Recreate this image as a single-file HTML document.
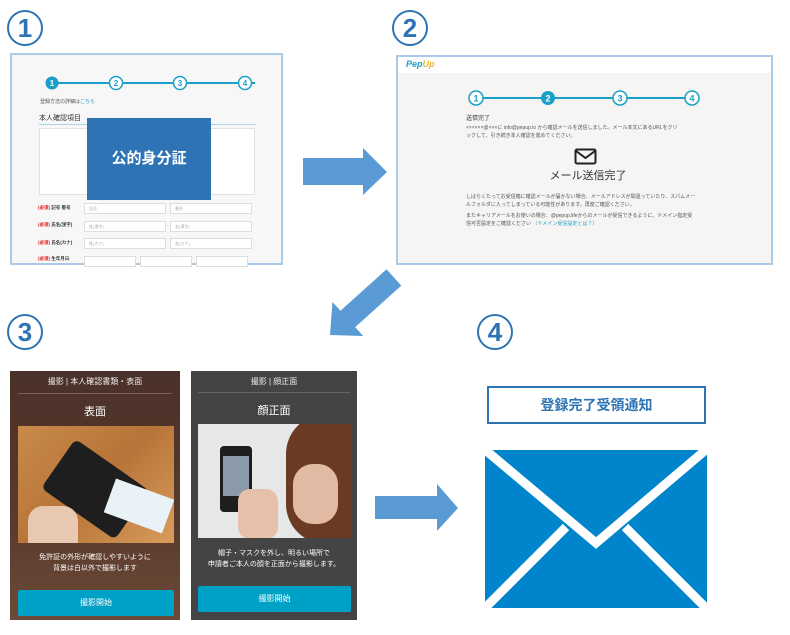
<!DOCTYPE html>
<html><head><meta charset="utf-8"><style>
*{margin:0;padding:0;box-sizing:border-box}
body{width:790px;height:635px;background:#fff;position:relative;overflow:hidden;font-family:"Liberation Sans","Noto Sans CJK JP",sans-serif}
.a{position:absolute}
.num{position:absolute;width:36px;height:36px;border:2px solid #2e74b5;border-radius:50%;color:#2e74b5;font-weight:bold;font-size:26px;line-height:32px;text-align:center}
.t{font-size:5px;color:#555;white-space:nowrap}
.inp{position:absolute;height:11px;border:1px solid #ddd;background:#fff;font-size:4px;color:#aaa;padding-left:4px;line-height:9px}
.lab{position:absolute;font-size:4.5px;color:#333;font-weight:bold}
.lab b{color:#d33}
</style></head><body>
<div class="num" style="left:7px;top:10px">1</div>
<div class="num" style="left:392px;top:10px">2</div>
<div class="num" style="left:7px;top:314px">3</div>
<div class="num" style="left:477px;top:314px">4</div>

<!-- Panel 1 -->
<div class="a" style="left:10px;top:53px;width:273px;height:212px;border:2px solid #a9cbe8;background:#f7f7f7">
  <svg class="a" style="left:0;top:0" width="270" height="40">
    <line x1="40" y1="28" x2="243" y2="28" stroke="#1a9fc9" stroke-width="2"/>
    <circle cx="40" cy="28" r="6.5" fill="#1a9fc9"/>
    <circle cx="104" cy="28" r="6.5" fill="#fff" stroke="#1a9fc9" stroke-width="1.5"/>
    <circle cx="168" cy="28" r="6.5" fill="#fff" stroke="#1a9fc9" stroke-width="1.5"/>
    <circle cx="233" cy="28" r="6.5" fill="#fff" stroke="#1a9fc9" stroke-width="1.5"/>
    <text x="40" y="31" font-size="8" font-weight="bold" fill="#fff" text-anchor="middle">1</text>
    <text x="104" y="31" font-size="8" font-weight="bold" fill="#1a9fc9" text-anchor="middle">2</text>
    <text x="168" y="31" font-size="8" font-weight="bold" fill="#1a9fc9" text-anchor="middle">3</text>
    <text x="233" y="31" font-size="8" font-weight="bold" fill="#1a9fc9" text-anchor="middle">4</text>
  </svg>
  <div class="a t" style="left:28px;top:43px">登録方法の詳細は<span style="color:#1a9fc9">こちら</span></div>
  <div class="a" style="left:27px;top:58px;width:217px;border-bottom:1.5px solid #a9d6ea;font-size:7px;color:#333;padding-bottom:1px">本人確認項目</div>
  <div class="a" style="left:27px;top:73px;width:216px;height:67px;background:#fff;border:1px solid #e2e2e2"></div>
  <div class="lab" style="left:26px;top:150px"><b>(必須)</b> 記号 番号</div>
  <div class="lab" style="left:26px;top:167px"><b>(必須)</b> 氏名(漢字)</div>
  <div class="lab" style="left:26px;top:185px"><b>(必須)</b> 氏名(カナ)</div>
  <div class="lab" style="left:26px;top:201px"><b>(必須)</b> 生年月日</div>
  <div class="inp" style="left:72px;top:148px;width:82px">記号</div>
  <div class="inp" style="left:158px;top:148px;width:82px">番号</div>
  <div class="inp" style="left:72px;top:166px;width:82px">姓(漢字)</div>
  <div class="inp" style="left:158px;top:166px;width:82px">名(漢字)</div>
  <div class="inp" style="left:72px;top:183px;width:82px">姓(カナ)</div>
  <div class="inp" style="left:158px;top:183px;width:82px">名(カナ)</div>
  <div class="inp" style="left:72px;top:201px;width:52px"></div>
  <div class="inp" style="left:128px;top:201px;width:52px"></div>
  <div class="inp" style="left:184px;top:201px;width:52px"></div>
</div>
<div class="a" style="left:87px;top:118px;width:124px;height:82px;background:#2e74b5;color:#fff;font-size:15px;font-weight:bold;text-align:center;line-height:82px">公的身分証</div>

<!-- Panel 2 -->
<div class="a" style="left:396px;top:55px;width:377px;height:210px;border:2px solid #a9cbe8;background:#f6f5f3">
  <div class="a" style="left:0;top:0;width:373px;height:16px;background:#fff"></div>
  <div class="a" style="left:8px;top:2px;font-size:9px;font-weight:bold;font-style:italic;color:#1a9fc9">Pep<span style="color:#f3b61f">Up</span></div>
  <svg class="a" style="left:0;top:0" width="373" height="60">
    <line x1="78" y1="41" x2="300" y2="41" stroke="#1a9fc9" stroke-width="2"/>
    <circle cx="78" cy="41" r="7" fill="#fff" stroke="#1a9fc9" stroke-width="1.5"/>
    <circle cx="150" cy="41" r="7" fill="#1a9fc9"/>
    <circle cx="222" cy="41" r="7" fill="#fff" stroke="#1a9fc9" stroke-width="1.5"/>
    <circle cx="294" cy="41" r="7" fill="#fff" stroke="#1a9fc9" stroke-width="1.5"/>
    <text x="78" y="44.5" font-size="9" font-weight="bold" fill="#1a9fc9" text-anchor="middle">1</text>
    <text x="150" y="44.5" font-size="9" font-weight="bold" fill="#fff" text-anchor="middle">2</text>
    <text x="222" y="44.5" font-size="9" font-weight="bold" fill="#1a9fc9" text-anchor="middle">3</text>
    <text x="294" y="44.5" font-size="9" font-weight="bold" fill="#1a9fc9" text-anchor="middle">4</text>
  </svg>
  <div class="a t" style="left:68px;top:56px;font-size:6px;color:#333">送信完了</div>
  <div class="a t" style="left:68px;top:67px;line-height:8px">××××××@×××に info@pepup.io から確認メールを送信しました。メール本文にあるURLをクリ<br>ックして、引き続き本人確認を進めてください。</div>
  <svg class="a" style="left:176px;top:91px" width="24" height="18"><rect x="1.5" y="1.5" width="20" height="14" rx="1.5" fill="none" stroke="#222" stroke-width="2"/><polyline points="2,3 11.5,10 21,3" fill="none" stroke="#222" stroke-width="2"/></svg>
  <div class="a" style="left:120px;top:110px;width:140px;text-align:center;font-size:11px;color:#333">メール送信完了</div>
  <div class="a t" style="left:68px;top:136px;line-height:8px">しばらくたってお受信箱に確認メールが届かない場合、メールアドレスが間違っていたり、スパムメー<br>ルフォルダに入ってしまっている可能性があります。再度ご確認ください。</div>
  <div class="a t" style="left:68px;top:155px;line-height:8px">またキャリアメールをお使いの場合、@pepup.lifeからのメールが受信できるように、ドメイン指定受<br>信可否設定をご確認ください <span style="color:#1a9fc9">（ドメイン受信設定とは？）</span></div>
</div>

<!-- arrows -->
<svg class="a" style="left:0;top:0" width="790" height="635">
  <polygon points="303,158 363,158 363,148 387,172 363,195 363,185 303,185" fill="#5b9bd5"/>
  <polygon points="375,496 437,496 437,484 458,508 437,531 437,519 375,519" fill="#5b9bd5"/>
  <g transform="translate(330,335) rotate(-42)">
    <polygon points="0,0 24,-23 24,-11 86,-11 86,11 24,11 24,23" fill="#5b9bd5"/>
  </g>
  <!-- envelope -->
  <rect x="483" y="448" width="226" height="162" fill="#0085cc"/>
  <polyline points="483,448 596,543 708,448" fill="none" stroke="#fff" stroke-width="9"/>
  <line x1="483" y1="610" x2="566" y2="527" stroke="#fff" stroke-width="9"/>
  <line x1="708" y1="610" x2="625" y2="527" stroke="#fff" stroke-width="9"/>
  <rect x="483" y="448" width="226" height="162" fill="none" stroke="#fff" stroke-width="4"/>
</svg>
<div class="a" style="left:487px;top:386px;width:219px;height:38px;border:2px solid #2e74b5;color:#2e74b5;font-weight:bold;font-size:14px;text-align:center;line-height:34px">登録完了受領通知</div>

<!-- Panel 3 left -->
<div class="a" style="left:10px;top:371px;width:170px;height:249px;background:linear-gradient(#4a3129,#5a3a2c 60%,#6b4a38)">
  <div class="a" style="left:0;top:5px;width:170px;text-align:center;color:#eee;font-size:8px">撮影 | 本人確認書類・表面</div>
  <div class="a" style="left:8px;top:22px;width:154px;border-top:1px solid #7a6055"></div>
  <div class="a" style="left:0;top:32px;width:170px;text-align:center;color:#fff;font-size:11px">表面</div>
  <div class="a" style="left:8px;top:55px;width:156px;height:117px;background:linear-gradient(135deg,#c88a4a,#b87438 50%,#d89c5c)">
    <div class="a" style="left:25px;top:15px;width:60px;height:90px;background:#1e1e1e;border-radius:6px;transform:rotate(-55deg) translate(10px,20px)"></div>
    <div class="a" style="left:90px;top:62px;width:62px;height:36px;background:#e8f2f7;transform:rotate(20deg)"></div>
    <div class="a" style="left:10px;top:80px;width:50px;height:37px;background:#e8c8b0;border-radius:15px 15px 0 0"></div>
  </div>
  <div class="a" style="left:0;top:181px;width:170px;text-align:center;color:#fff;font-size:7px;line-height:11px">免許証の外形が確認しやすいように<br>背景は白以外で撮影します</div>
  <div class="a" style="left:8px;top:219px;width:156px;height:26px;background:#00a1c6;border-radius:2px;color:#fff;font-size:8px;text-align:center;line-height:26px">撮影開始</div>
</div>

<!-- Panel 3 right -->
<div class="a" style="left:191px;top:371px;width:166px;height:249px;background:#444">
  <div class="a" style="left:0;top:5px;width:166px;text-align:center;color:#eee;font-size:8px">撮影 | 顔正面</div>
  <div class="a" style="left:7px;top:21px;width:152px;border-top:1px solid #666"></div>
  <div class="a" style="left:0;top:31px;width:166px;text-align:center;color:#fff;font-size:11px">顔正面</div>
  <div class="a" style="left:7px;top:53px;width:153px;height:114px;background:#e6e8e8;overflow:hidden">
    <div class="a" style="left:88px;top:-10px;width:80px;height:130px;background:#6a3a22;border-radius:40px 10px 0 40px"></div>
    <div class="a" style="left:95px;top:40px;width:45px;height:60px;background:#e2b9a2;border-radius:20px"></div>
    <div class="a" style="left:22px;top:22px;width:32px;height:66px;background:#1e1e1e;border-radius:4px"></div>
    <div class="a" style="left:25px;top:32px;width:26px;height:40px;background:#8a9aa8"></div>
    <div class="a" style="left:40px;top:65px;width:40px;height:50px;background:#e6c0a8;border-radius:12px"></div>
  </div>
  <div class="a" style="left:0;top:177px;width:166px;text-align:center;color:#fff;font-size:7px;line-height:11px">帽子・マスクを外し、明るい場所で<br>申請者ご本人の顔を正面から撮影します。</div>
  <div class="a" style="left:7px;top:215px;width:153px;height:26px;background:#00a1c6;border-radius:2px;color:#fff;font-size:8px;text-align:center;line-height:26px">撮影開始</div>
</div>
</body></html>
